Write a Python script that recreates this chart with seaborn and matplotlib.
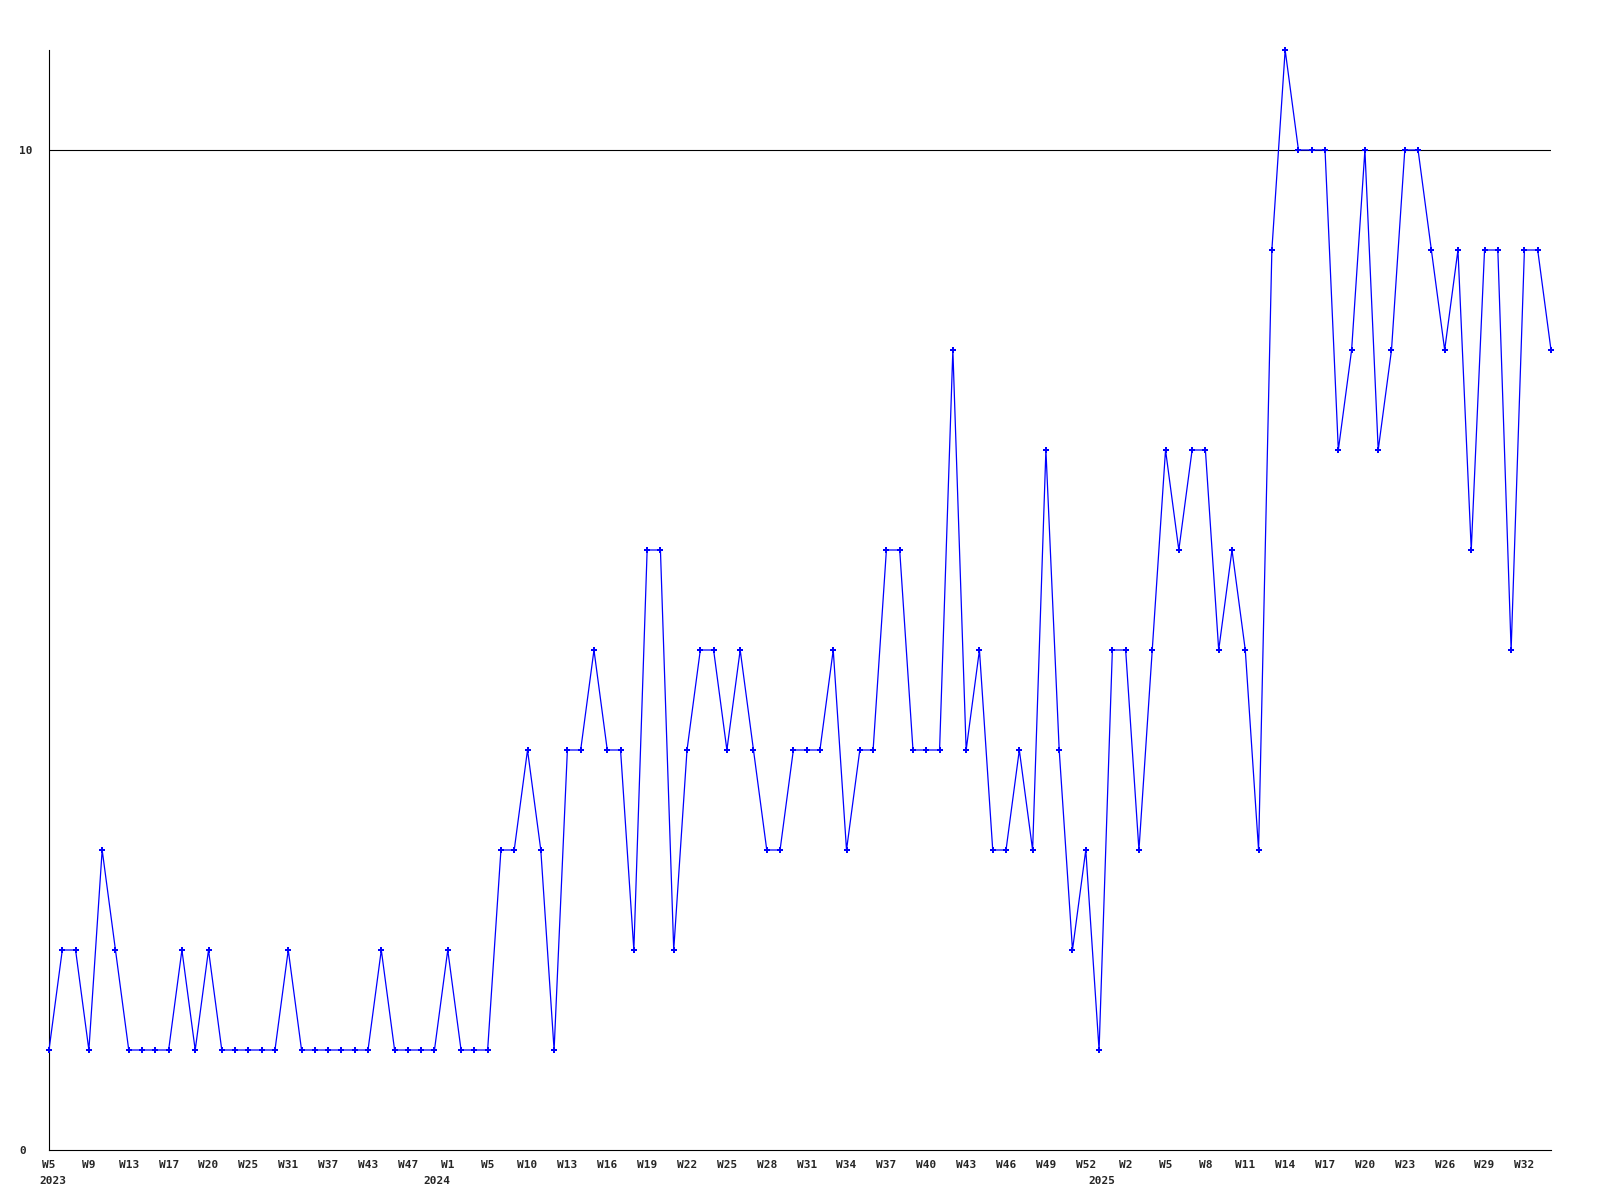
import matplotlib
matplotlib.use("Agg")
import matplotlib.pyplot as plt
import seaborn as sns
import pandas as pd

# ---- data ----
values = [1, 2, 2, 1, 3, 2, 1, 1, 1, 1,
          2, 1, 2, 1, 1, 1, 1, 1, 2, 1,
          1, 1, 1, 1, 1, 2, 1, 1, 1, 1,
          2, 1, 1, 1, 3, 3, 4, 3, 1, 4,
          4, 5, 4, 4, 2, 6, 6, 2, 4, 5,
          5, 4, 5, 4, 3, 3, 4, 4, 4, 5,
          3, 4, 4, 6, 6, 4, 4, 4, 8, 4,
          5, 3, 3, 4, 3, 7, 4, 2, 3, 1,
          5, 5, 3, 5, 7, 6, 7, 7, 5, 6,
          5, 3, 9, 11, 10, 10, 10, 7, 8, 10,
          7, 8, 10, 10, 9, 8, 9, 6, 9, 9,
          5, 9, 9, 8]

week_labels = ["W5", "W9", "W13", "W17", "W20", "W25", "W31", "W37", "W43", "W47",
               "W1", "W5", "W10", "W13", "W16", "W19", "W22", "W25", "W28", "W31",
               "W34", "W37", "W40", "W43", "W46", "W49", "W52",
               "W2", "W5", "W8", "W11", "W14", "W17", "W20", "W23", "W26", "W29", "W32"]
label_step = 3

years = ["2023", "2024", "2025"]
year_pos = [0.3, 29.2, 79.2]

y_ticks = [0, 10]
y_max = 11
ref_line = 10

df = pd.DataFrame({"idx": list(range(len(values))), "value": values})

sns.set_style("white")
plt.rcParams["font.family"] = ["DejaVu Sans Mono", "DejaVu Sans"]
plt.rcParams["font.weight"] = "bold"

fig = plt.figure(figsize=(16, 12), dpi=100)
ax = fig.add_axes([49 / 1600, 50 / 1200, 1502 / 1600, 1100 / 1200])

ax.axhline(ref_line, color="black", lw=0.8, zorder=1)

sns.lineplot(data=df, x="idx", y="value", ax=ax, color="#0000ff",
             linewidth=0.9, marker="P", markersize=4.5,
             markeredgewidth=0, estimator=None, clip_on=False, zorder=3)

ax.set_xlim(0, len(values) - 1)
ax.set_ylim(0, y_max)

ax.set_xticks(list(range(0, len(week_labels) * label_step, label_step)))
ax.set_xticklabels(week_labels, fontsize=8, fontweight="bold")
ax.tick_params(axis="x", length=0, pad=7.5)

ax.set_yticks(y_ticks)
ax.set_yticklabels([str(t) for t in y_ticks], fontsize=8, fontweight="bold")
for lab in ax.get_yticklabels():
    lab.set_ha("left")
ax.tick_params(axis="y", length=0, pad=21.6)

for yr, pos in zip(years, year_pos):
    ax.annotate(yr, xy=(pos, 0), xycoords=("data", "axes fraction"),
                xytext=(0, -18.5), textcoords="offset points",
                ha="center", va="top", fontsize=8, fontweight="bold",
                annotation_clip=False)

ax.set_xlabel("")
ax.set_ylabel("")
for s in ["top", "right"]:
    ax.spines[s].set_visible(False)
for s in ["left", "bottom"]:
    ax.spines[s].set_color("black")
    ax.spines[s].set_linewidth(0.8)
ax.grid(False)

fig.savefig("out.png", dpi=100)
